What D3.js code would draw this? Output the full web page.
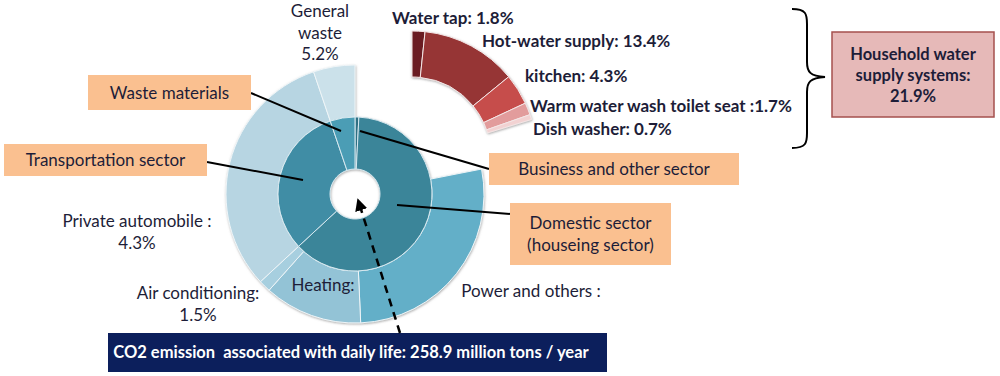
<!DOCTYPE html>
<html>
<head>
<meta charset="utf-8">
<script src="https://cdn.jsdelivr.net/npm/d3@7"></script>
<style>
  body { margin: 0; background: #fff; }
  svg text { font-family: Lato, "Open Sans", sans-serif; fill: #1d1d38; }
</style>
</head>
<body>
<div id="chart"></div>
<script>
// CO2 emission associated with daily life (share, %)
const innerLabels = ["Business and other sector", "Domestic sector", "Transportation sector", "Waste materials"];
const innerValues = [0.8, 62.3, 31.7, 5.2];
const innerColors = ["#2f6f83", "#3b8599", "#3f8da5", "#4b9db5"];

const outerLabels = ["Household water supply systems", "Power and others", "Heating", "Air conditioning", "Private automobile", "General waste"];
const outerValues = [21.9, 27.4, 12.3, 1.5, 31.7, 5.2];
const outerColors = ["#c0504d", "#63afc8", "#93c3d6", "#a7cfdf", "#b7d5e2", "#cbe1ea"];

const waterLabels = ["Water tap", "Hot-water supply", "kitchen", "Warm water wash toilet seat", "Dish washer"];
const waterValues = [1.8, 13.4, 4.3, 1.7, 0.7];
const waterColors = ["#6a1e20", "#963536", "#c64e4c", "#e29c9c", "#f2d2d2"];

const width = 1000, height = 376;
const cx = 355, cy = 194;

const svg = d3.select("#chart").append("svg")
  .attr("width", width)
  .attr("height", height);

const defs = svg.append("defs");
const shadow = defs.append("filter").attr("id", "shadow")
  .attr("x", "-10%").attr("y", "-10%").attr("width", "120%").attr("height", "120%");
shadow.append("feDropShadow")
  .attr("dx", 0.5).attr("dy", 1)
  .attr("stdDeviation", 1.2)
  .attr("flood-color", "#777").attr("flood-opacity", 0.6);

const pie = d3.pie().sort(null).value(d => d);

// outer ring (water supply slice is pulled out and drawn separately)
const outerArc = d3.arc().innerRadius(77).outerRadius(129);
const donut = svg.append("g")
  .attr("transform", `translate(${cx},${cy})`)
  .attr("filter", "url(#shadow)");

donut.selectAll("path.outer")
  .data(pie(outerValues))
  .enter()
  .filter((d, i) => i > 0)
  .append("path")
  .attr("class", "outer")
  .attr("d", outerArc)
  .attr("fill", d => outerColors[d.index])
  .attr("stroke", "#eef5f8")
  .attr("stroke-width", 1);

// inner ring
const innerArc = d3.arc().innerRadius(25).outerRadius(77);
donut.selectAll("path.inner")
  .data(pie(innerValues))
  .enter()
  .append("path")
  .attr("class", "inner")
  .attr("d", innerArc)
  .attr("fill", (d, i) => innerColors[i])
  .attr("stroke", "#d6e8ef")
  .attr("stroke-width", 1);

// exploded water supply segment
const waterPie = d3.pie().sort(null).value(d => d)
  .startAngle(0).endAngle(73 * Math.PI / 180);
const waterArc = d3.arc().innerRadius(79).outerRadius(125);
svg.append("g")
  .attr("transform", "translate(412,156)")
  .attr("filter", "url(#shadow)")
  .selectAll("path")
  .data(waterPie(waterValues))
  .enter()
  .append("path")
  .attr("d", waterArc)
  .attr("fill", (d, i) => waterColors[i])
  .attr("stroke", "#f4e6e6")
  .attr("stroke-width", 1);

// leader lines
const leaders = [
  [[251, 93], [341, 131]],
  [[207, 162], [303, 180]],
  [[489, 169], [360, 131]],
  [[511, 214], [397, 205]]
];
svg.selectAll("line.leader")
  .data(leaders)
  .enter()
  .append("line")
  .attr("x1", d => d[0][0]).attr("y1", d => d[0][1])
  .attr("x2", d => d[1][0]).attr("y2", d => d[1][1])
  .attr("stroke", "#000")
  .attr("stroke-width", 2);

// callout boxes
const boxes = [
  { x: 88, y: 75, w: 163, h: 35, lines: ["Waste materials"] },
  { x: 4, y: 144, w: 203, h: 32, lines: ["Transportation sector"] },
  { x: 489, y: 153, w: 250, h: 32, lines: ["Business and other sector"] },
  { x: 510, y: 203, w: 161, h: 62, lines: ["Domestic sector", "(houseing sector)"] }
];
const boxG = svg.selectAll("g.box")
  .data(boxes)
  .enter()
  .append("g")
  .attr("class", "box");
boxG.append("rect")
  .attr("x", d => d.x).attr("y", d => d.y)
  .attr("width", d => d.w).attr("height", d => d.h)
  .attr("fill", "#fac090");
boxG.each(function(d) {
  const g = d3.select(this);
  const n = d.lines.length;
  d.lines.forEach((t, i) => {
    g.append("text")
      .attr("x", d.x + d.w / 2)
      .attr("y", d.y + d.h / 2 + (i - (n - 1) / 2) * 22 + 6)
      .attr("text-anchor", "middle")
      .attr("font-size", 17)
      .text(t);
  });
});

// plain labels
const plain = [
  { x: 320, y: 17, lines: ["General", "waste", "5.2%"] },
  { x: 137, y: 227, lines: ["Private automobile :", "4.3%"] },
  { x: 198, y: 299, lines: ["Air conditioning:", "1.5%"] },
  { x: 323, y: 291, lines: ["Heating:"] },
  { x: 531, y: 297, lines: ["Power and others :"] }
];
plain.forEach(p => {
  p.lines.forEach((t, i) => {
    svg.append("text")
      .attr("x", p.x).attr("y", p.y + i * 21.5)
      .attr("text-anchor", "middle")
      .attr("font-size", 17)
      .text(t);
  });
});

// water supply labels
const waterText = [
  { x: 392, y: 24, t: "Water tap: 1.8%" },
  { x: 482, y: 47, t: "Hot-water supply: 13.4%" },
  { x: 525, y: 82, t: "kitchen: 4.3%" },
  { x: 530, y: 112, t: "Warm water wash toilet seat :1.7%" },
  { x: 533, y: 135, t: "Dish washer: 0.7%" }
];
svg.selectAll("text.water")
  .data(waterText)
  .enter()
  .append("text")
  .attr("class", "water")
  .attr("x", d => d.x).attr("y", d => d.y)
  .attr("font-size", 17)
  .attr("font-weight", "bold")
  .text(d => d.t);

// brace
svg.append("path")
  .attr("d", "M792,9 C806,9 807,14 807,24 L807,62 C807,72 810,76 825,77 C810,78 807,82 807,92 L807,133 C807,143 806,148 792,148")
  .attr("fill", "none")
  .attr("stroke", "#000")
  .attr("stroke-width", 2);

// household box
svg.append("rect")
  .attr("x", 832).attr("y", 32)
  .attr("width", 162).attr("height", 85)
  .attr("fill", "#e6b9b8")
  .attr("stroke", "#a5504e")
  .attr("stroke-width", 1.5);
["Household water", "supply systems:", "21.9%"].forEach((t, i) => {
  svg.append("text")
    .attr("x", 913).attr("y", 60 + i * 21)
    .attr("text-anchor", "middle")
    .attr("font-size", 16.5)
    .attr("font-weight", "bold")
    .text(t);
});

// total box
svg.append("rect")
  .attr("x", 108).attr("y", 333)
  .attr("width", 499).attr("height", 39)
  .attr("fill", "#0c1f5c");

// dashed arrow
defs.append("marker")
  .attr("id", "arrow")
  .attr("viewBox", "0 0 10 10")
  .attr("refX", 6).attr("refY", 5)
  .attr("markerWidth", 5).attr("markerHeight", 5)
  .attr("orient", "auto")
  .append("path")
  .attr("d", "M0,0 L10,5 L0,10 z")
  .attr("fill", "#000");
svg.append("line")
  .attr("x1", 400).attr("y1", 333)
  .attr("x2", 359).attr("y2", 203)
  .attr("stroke", "#000")
  .attr("stroke-width", 2.5)
  .attr("stroke-dasharray", "8,6")
  .attr("marker-end", "url(#arrow)");

svg.append("text")
  .attr("x", 351).attr("y", 358)
  .attr("text-anchor", "middle")
  .attr("font-size", 16.5)
  .attr("font-weight", "bold")
  .style("fill", "#fff")
  .style("white-space", "pre")
  .text("CO2 emission  associated with daily life: 258.9 million tons / year");
</script>
</body>
</html>
